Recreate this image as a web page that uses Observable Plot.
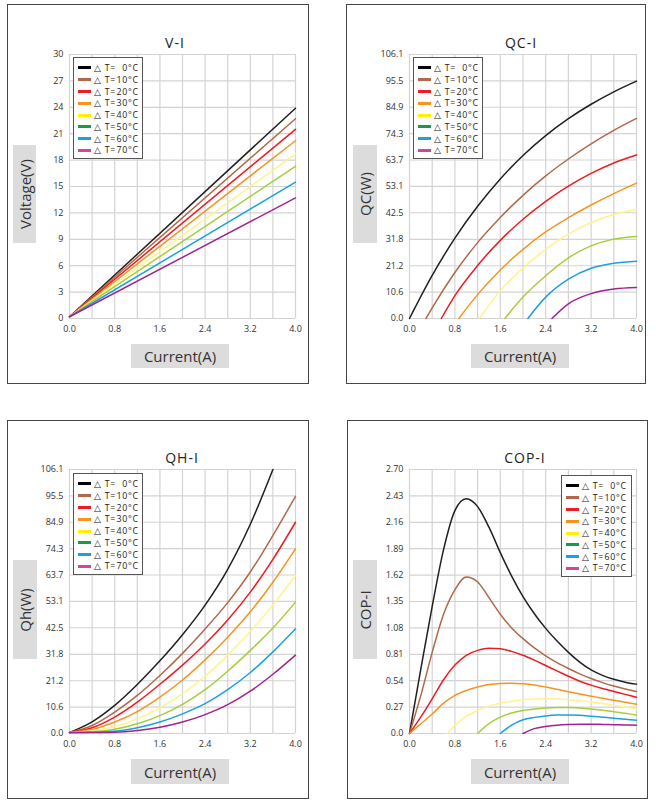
<!DOCTYPE html>
<html>
<head>
<meta charset="utf-8">
<script src="https://cdn.jsdelivr.net/npm/d3@7"></script>
<script src="https://cdn.jsdelivr.net/npm/@observablehq/plot@0.6"></script>
<style>
  body { margin: 0; background: #fff; }
  #root { position: relative; width: 656px; height: 804px; background: #fff; font-family: "Open Sans", "Noto Sans", sans-serif; color: #333; overflow: hidden; }
  .frame { position: absolute; border: 1.6px solid #454545; box-sizing: border-box; pointer-events: none; }
  .title { position: absolute; width: 120px; text-align: center; font-size: 14px; letter-spacing: 1px; line-height: 16px; color: #222; }
  .lab { position: absolute; background: #dcdcdc; display: flex; align-items: center; justify-content: center; font-size: 15px; color: #333; }
  .lab span { white-space: nowrap; }
  .lab.v span { transform: rotate(-90deg); }
  .legend { position: absolute; border: 1px solid #555; background: #fff; box-sizing: border-box; padding: 4px 0 0 4px; font-size: 8.8px; color: #222; }
  .row { display: flex; align-items: center; height: 11.8px; white-space: nowrap; letter-spacing: 0.7px; }
  .sw { display: inline-block; width: 13px; height: 3px; margin-right: 3px; }
  .num { display: inline-block; width: 12px; text-align: right; }
</style>
</head>
<body>
<div id="root"></div>
<script>
// ---------- data ----------
const deltaT = [0, 10, 20, 30, 40, 50, 60, 70];
const lineColors = ["#231f20", "#b0694a", "#ed1c24", "#f7941d", "#fff38a", "#a6ce39", "#1ba1e2", "#a2238f"];
const legendColors = ["#000000", "#b0694a", "#ed1c24", "#f7941d", "#fff200", "#1a9a48", "#1ba1e2", "#d0469f"];

const xTickValues = [0, 0.8, 1.6, 2.4, 3.2, 4.0];
const xTickLabels = ["0.0", "0.8", "1.6", "2.4", "3.2", "4.0"];
const xGridValues = [0, 0.4, 0.8, 1.2, 1.6, 2.0, 2.4, 2.8, 3.2, 3.6, 4.0];

const vTickLabels = ["0", "3", "6", "9", "12", "15", "18", "21", "24", "27", "30"];
const qTickLabels = ["0.0", "10.6", "21.2", "31.8", "42.5", "53.1", "63.7", "74.3", "84.9", "95.5", "106.1"];
const copTickLabels = ["0.0", "0.27", "0.54", "0.81", "1.08", "1.35", "1.62", "1.89", "2.16", "2.43", "2.70"];

// V-I (straight lines)
const viCurrent = [0, 4.0];
const viVoltage = [
  [0.2, 23.9], [0.2, 22.7], [0.2, 21.5], [0.2, 20.2],
  [0.2, 18.7], [0.2, 17.3], [0.2, 15.5], [0.2, 13.7]
];

// QC-I
const gridCurrent = [0, 0.4, 0.8, 1.2, 1.6, 2.0, 2.4, 2.8, 3.2, 3.6, 4.0];
const qcStart = [0, 0.29, 0.56, 0.87, 1.23, 1.68, 2.085, 2.51];
const qcValues = [
  [0, 17.3, 32.3, 45.1, 56.1, 65.5, 73.5, 80.3, 86.1, 91.1, 95.4],
  [null, 4.3, 18.5, 30.5, 40.6, 49.5, 57.3, 64.1, 70.2, 75.6, 80.4],
  [null, null, 9.2, 21.3, 31.4, 39.9, 47.1, 53.2, 58.3, 62.5, 65.7],
  [null, null, null, 9.6, 19.5, 27.8, 34.8, 40.5, 45.6, 50.2, 54.4],
  [null, null, null, null, 11.2, 20.3, 27.8, 33.9, 38.6, 41.8, 43.8],
  [null, null, null, null, null, 8.6, 17.2, 24.4, 29.2, 31.9, 33],
  [null, null, null, null, null, null, 8.6, 15.8, 20.2, 22.2, 23.0],
  [null, null, null, null, null, null, null, 5.9, 10.0, 11.9, 12.5]
];

// QH-I
const qhValues = [
  [0.4, 4.7, 11.3, 19.7, 29.2, 39.7, 51.6, 66.0, 84.1, 106.1, null],
  [0.4, 3.2, 8.6, 15.3, 23.3, 32.2, 42, 52.6, 64.9, 79.6, 95.3],
  [0.4, 2.3, 6.6, 12.6, 19.8, 27.5, 36, 45.6, 56.8, 70, 84.9],
  [0.4, 1.6, 4.6, 8.8, 14.6, 21.5, 29.6, 38.7, 48.9, 60.8, 74.2],
  [0.4, 1.1, 2.8, 5.9, 10.3, 16, 23, 31.5, 41, 51.7, 63.5],
  [0.4, 0.7, 1.7, 3.9, 7.2, 11.7, 17.6, 25, 33.4, 42.4, 52.8],
  [0.4, 0.5, 0.9, 2.3, 4.6, 7.9, 12, 17.6, 24.5, 32.8, 42.1],
  [0.4, 0.4, 0.5, 1.2, 2.5, 4.6, 7.6, 11.6, 17, 23.8, 31.5]
];

// COP-I
const copCurrent = [0, 0.2, 0.4, 0.6, 0.8, 1.0, 1.2, 1.4, 1.6, 1.8, 2.0, 2.2, 2.4, 2.6, 2.8, 3.0, 3.2, 3.4, 3.6, 3.8, 4.0];
const copStart = [0, 0, 0, 0, 0.665, 1.2, 1.6, 2.0];
const copValues = [
  [0, 0.66, 1.30, 1.88, 2.28, 2.40, 2.32, 2.11, 1.85, 1.61, 1.40, 1.225, 1.075, 0.945, 0.83, 0.73, 0.65, 0.595, 0.555, 0.525, 0.505],
  [0, 0.39, 0.83, 1.22, 1.47, 1.60, 1.55, 1.39, 1.22, 1.08, 0.97, 0.875, 0.795, 0.725, 0.665, 0.61, 0.562, 0.52, 0.485, 0.455, 0.43],
  [0, 0.17, 0.355, 0.55, 0.70, 0.80, 0.85, 0.873, 0.866, 0.84, 0.80, 0.75, 0.695, 0.64, 0.585, 0.535, 0.495, 0.46, 0.43, 0.40, 0.37],
  [0, 0.10, 0.20, 0.31, 0.39, 0.44, 0.475, 0.50, 0.512, 0.515, 0.508, 0.495, 0.475, 0.452, 0.428, 0.405, 0.382, 0.36, 0.34, 0.32, 0.30],
  [null, null, null, null, 0.085, 0.175, 0.235, 0.28, 0.31, 0.33, 0.345, 0.352, 0.355, 0.352, 0.345, 0.335, 0.322, 0.307, 0.29, 0.27, 0.25],
  [null, null, null, null, null, null, null, 0.10, 0.167, 0.21, 0.235, 0.25, 0.26, 0.265, 0.265, 0.26, 0.25, 0.237, 0.222, 0.206, 0.19],
  [null, null, null, null, null, null, null, null, null, 0.085, 0.14, 0.165, 0.18, 0.188, 0.19, 0.186, 0.177, 0.167, 0.157, 0.146, 0.136],
  [null, null, null, null, null, null, null, null, null, null, null, 0.05, 0.072, 0.085, 0.092, 0.095, 0.095, 0.093, 0.09, 0.088, 0.085]
];

// ---------- build rows ----------
function rowsFrom(current, values, starts) {
  const rows = [];
  values.forEach((series, k) => {
    const s = starts ? starts[k] : null;
    if (s !== null && s !== undefined) rows.push({ I: s, v: 0, k, color: lineColors[k] });
    series.forEach((v, j) => {
      if (v === null) return;
      if (s !== null && s !== undefined && current[j] <= s) return;
      rows.push({ I: current[j], v, k, color: lineColors[k] });
    });
  });
  return rows;
}

const viRows = rowsFrom(viCurrent, viVoltage, null);
const qcRows = rowsFrom(gridCurrent, qcValues, qcStart);
const qhRows = rowsFrom(gridCurrent, qhValues, null);
const copRows = rowsFrom(copCurrent, copValues, copStart);

// ---------- layout ----------
const root = document.getElementById("root");
const FONT = '"Open Sans", "Noto Sans", sans-serif';

const panels = [
  { title: "V-I", rows: viRows, labels: vTickLabels, ylab: "Voltage(V)", curve: "linear",
    frame: [7, 4, 302, 380], svg: [7, 4, 301, 379], m: [50, 13, 65, 62],
    tpos: [175, 43], ybox: [13, 145, 23, 98], xbox: [131, 344, 98, 24], leg: [73, 57, 70, 102] },
  { title: "QC-I", rows: qcRows, labels: qTickLabels, ylab: "QC(W)", curve: "monotone-x",
    frame: [346, 4, 300, 380], svg: [346, 4, 299, 379], m: [50, 9, 65, 63],
    tpos: [521, 43], ybox: [353, 145, 24, 98], xbox: [471, 344, 98, 24], leg: [413, 57, 70, 102] },
  { title: "QH-I", rows: qhRows, labels: qTickLabels, ylab: "Qh(W)", curve: "monotone-x",
    frame: [7, 420, 302, 379], svg: [7, 420, 301, 378], m: [49, 13, 65, 62],
    tpos: [182, 458], ybox: [13, 560, 24, 99], xbox: [131, 759, 98, 25], leg: [73, 473, 70, 102] },
  { title: "COP-I", rows: copRows, labels: copTickLabels, ylab: "COP-I", curve: "monotone-x",
    frame: [347, 420, 301, 379], svg: [347, 420, 300, 378], m: [49, 11, 65, 62],
    tpos: [525, 458], ybox: [353, 560, 24, 99], xbox: [471, 759, 98, 25], leg: [561, 475, 71, 102] }
];

function place(el, x, y, w, h) {
  el.style.left = x + "px"; el.style.top = y + "px";
  if (w !== undefined) el.style.width = w + "px";
  if (h !== undefined) el.style.height = h + "px";
}

panels.forEach(p => {
  const yTicks = p.labels.map(Number);
  const yDomain = [0, yTicks[yTicks.length - 1]];
  const svg = Plot.plot({
    width: p.svg[2], height: p.svg[3],
    marginTop: p.m[0], marginRight: p.m[1], marginBottom: p.m[2], marginLeft: p.m[3],
    style: { fontFamily: FONT, fontSize: "9px", color: "#333", background: "transparent", overflow: "visible" },
    x: { domain: [0, 4] },
    y: { domain: yDomain },
    marks: [
      Plot.ruleX(xGridValues, { stroke: "#d3d3d3", strokeWidth: 1.2 }),
      Plot.ruleY(yTicks, { stroke: "#d3d3d3", strokeWidth: 1.2 }),
      Plot.axisX(xTickValues, { tickSize: 0, tickPadding: 7, label: null,
        tickFormat: d => xTickLabels[xTickValues.indexOf(d)] }),
      Plot.axisY(yTicks, { tickSize: 0, tickPadding: 6, label: null,
        tickFormat: d => p.labels[yTicks.indexOf(d)] }),
      Plot.line(p.rows, { x: "I", y: "v", z: "k", stroke: "color", strokeWidth: 1.5, curve: p.curve })
    ]
  });
  svg.style.position = "absolute";
  place(svg, p.svg[0], p.svg[1]);
  root.appendChild(svg);

  const fr = document.createElement("div");
  fr.className = "frame";
  place(fr, ...p.frame);
  root.appendChild(fr);

  const t = document.createElement("div");
  t.className = "title";
  t.textContent = p.title;
  place(t, p.tpos[0] - 60, p.tpos[1] - 8);
  root.appendChild(t);

  const yb = document.createElement("div");
  yb.className = "lab v";
  yb.innerHTML = "<span>" + p.ylab + "</span>";
  place(yb, ...p.ybox);
  root.appendChild(yb);

  const xb = document.createElement("div");
  xb.className = "lab";
  xb.innerHTML = "<span>Current(A)</span>";
  place(xb, ...p.xbox);
  root.appendChild(xb);

  const lg = document.createElement("div");
  lg.className = "legend";
  place(lg, ...p.leg);
  deltaT.forEach((dt, k) => {
    const r = document.createElement("div");
    r.className = "row";
    r.innerHTML = '<span class="sw" style="background:' + legendColors[k] + '"></span>' +
      '△ T=<span class="num">' + dt + '</span>°C';
    lg.appendChild(r);
  });
  root.appendChild(lg);
});
</script>
</body>
</html>
